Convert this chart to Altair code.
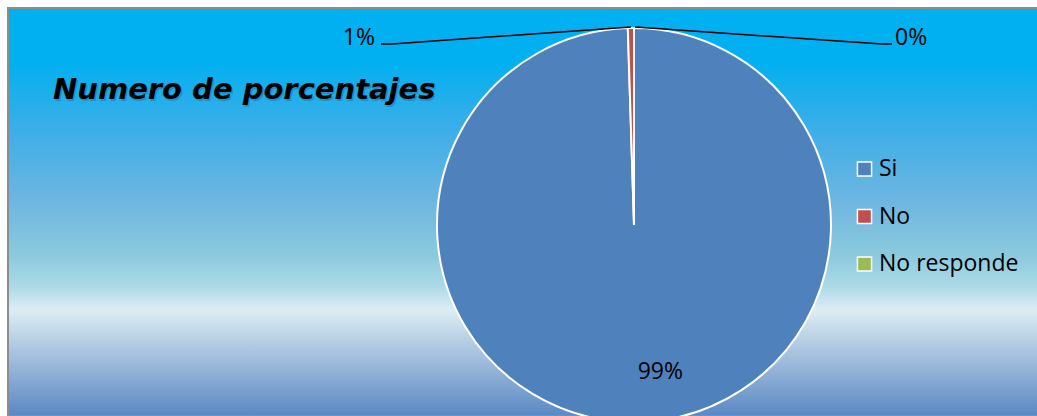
import altair as alt
import pandas as pd

W, H = 1037, 416

# ---- data ----
categories = ["Si", "No", "No responde"]
values = [99.5, 0.5, 0.0]
labels = ["99%", "1%", "0%"]
colors = ["#4F81BD", "#C0504D", "#9BBB59"]
title_text = "Numero de porcentajes"

pie_df = pd.DataFrame({
    "cat": categories,
    "val": values,
    "lab": labels,
    "ord": list(range(len(categories))),
})

# layout constants
CX, CY, R = 634, 225, 197
LFONT = "Open Sans"
LSIZE = 23

xs = alt.Scale(domain=[0, W], range=[0, W], nice=False, zero=False)
ys = alt.Scale(domain=[0, H], range=[0, H], nice=False, zero=False)

# background panel with gradient
bg_df = pd.DataFrame({"x": [8], "x2": [W + 10], "y": [8], "y2": [H]})
grad = alt.LinearGradient(
    gradient="linear", x1=0, x2=0, y1=0, y2=1,
    stops=[
        alt.GradientStop(offset=0.0, color="#00B0F0"),
        alt.GradientStop(offset=0.13, color="#00B0F0"),
        alt.GradientStop(offset=0.30, color="#3DAEE8"),
        alt.GradientStop(offset=0.47, color="#6DB6E1"),
        alt.GradientStop(offset=0.605, color="#8BC9DD"),
        alt.GradientStop(offset=0.68, color="#ABD9E6"),
        alt.GradientStop(offset=0.74, color="#DCEDF3"),
        alt.GradientStop(offset=0.83, color="#B0C9E2"),
        alt.GradientStop(offset=1.0, color="#5A88C4"),
    ],
)
bg = alt.Chart(bg_df).mark_rect(color=grad, stroke="#8C8C8C", strokeWidth=2).encode(
    x=alt.X("x:Q", scale=xs, axis=None),
    x2="x2:Q",
    y=alt.Y("y:Q", scale=ys, axis=None),
    y2="y2:Q",
)

# pie shadow
shadow = alt.Chart(pd.DataFrame({"v": [1]})).mark_arc(
    radius=R + 1, color="#2a3f5f", opacity=0.35
).encode(theta=alt.Theta("v:Q"), x=alt.value(CX + 2), y=alt.value(CY + 3))

pie = alt.Chart(pie_df).mark_arc(radius=R, stroke="white", strokeWidth=2).encode(
    theta=alt.Theta("val:Q", stack=True),
    order=alt.Order("ord:Q"),
    color=alt.Color(
        "cat:N",
        scale=alt.Scale(domain=categories, range=colors),
        sort=categories,
        legend=alt.Legend(
            title=None, orient="none", legendX=853, legendY=159,
            symbolType="square", symbolSize=200, symbolStrokeColor="white",
            symbolStrokeWidth=1.5, labelFont=LFONT, labelFontSize=LSIZE,
            labelColor="#000000", rowPadding=24.5, clipHeight=20,
            labelOffset=3, symbolOpacity=1,
        ),
    ),
    x=alt.value(CX),
    y=alt.value(CY),
)

# big slice label via theta
big_label = alt.Chart(pie_df).transform_calculate(
    show="datum.cat == 'Si' ? datum.lab : ''"
).mark_text(radius=147, font=LFONT, fontSize=LSIZE, color="#000000", dx=24, baseline="middle").encode(
    theta=alt.Theta("val:Q", stack=True),
    order=alt.Order("ord:Q"),
    text="show:N",
    x=alt.value(CX),
    y=alt.value(CY),
)

# outside labels for small slices
small_df = pd.DataFrame({
    "lab": [labels[1], labels[2]],
    "x": [375, 895],
    "y": [45, 45],
})
small_left = alt.Chart(small_df.iloc[[0]]).mark_text(
    font=LFONT, fontSize=LSIZE, align="right", baseline="alphabetic", color="#000000"
).encode(x=alt.X("x:Q", scale=xs), y=alt.Y("y:Q", scale=ys), text="lab:N")
small_right = alt.Chart(small_df.iloc[[1]]).mark_text(
    font=LFONT, fontSize=LSIZE, align="left", baseline="alphabetic", color="#000000"
).encode(x=alt.X("x:Q", scale=xs), y=alt.Y("y:Q", scale=ys), text="lab:N")

# leader lines
lead_df = pd.DataFrame({
    "g": ["a", "a", "a", "b", "b", "b"],
    "i": [0, 1, 2, 0, 1, 2],
    "x": [381, 392, 631, 635, 882, 892],
    "y": [44, 44, 27, 27, 44, 44],
})
leaders = alt.Chart(lead_df).mark_line(color="#000000", strokeWidth=1.5).encode(
    x=alt.X("x:Q", scale=xs),
    y=alt.Y("y:Q", scale=ys),
    detail="g:N",
    order="i:Q",
)

# title with shadow
t_df = pd.DataFrame({"t": [title_text], "x": [53], "y": [99]})
title_shadow = alt.Chart(t_df).mark_text(
    font="DejaVu Sans", fontSize=29, fontWeight="bold", fontStyle="italic",
    align="left", baseline="alphabetic", color="#1a3a5a", opacity=0.25, dx=1.5, dy=1.5,
).encode(x=alt.X("x:Q", scale=xs), y=alt.Y("y:Q", scale=ys), text="t:N")
title = alt.Chart(t_df).mark_text(
    font="DejaVu Sans", fontSize=29, fontWeight="bold", fontStyle="italic",
    align="left", baseline="alphabetic", color="#000000",
).encode(x=alt.X("x:Q", scale=xs), y=alt.Y("y:Q", scale=ys), text="t:N")

chart = alt.layer(
    bg, shadow, pie, big_label, leaders, small_left, small_right, title_shadow, title
).properties(
    width=W, height=H, padding=0, background="white",
    autosize=alt.AutoSizeParams(type="none"),
).configure_view(stroke=None).resolve_scale(color="independent")

chart.save("out.html", embed_options={"renderer": "svg", "actions": False})
